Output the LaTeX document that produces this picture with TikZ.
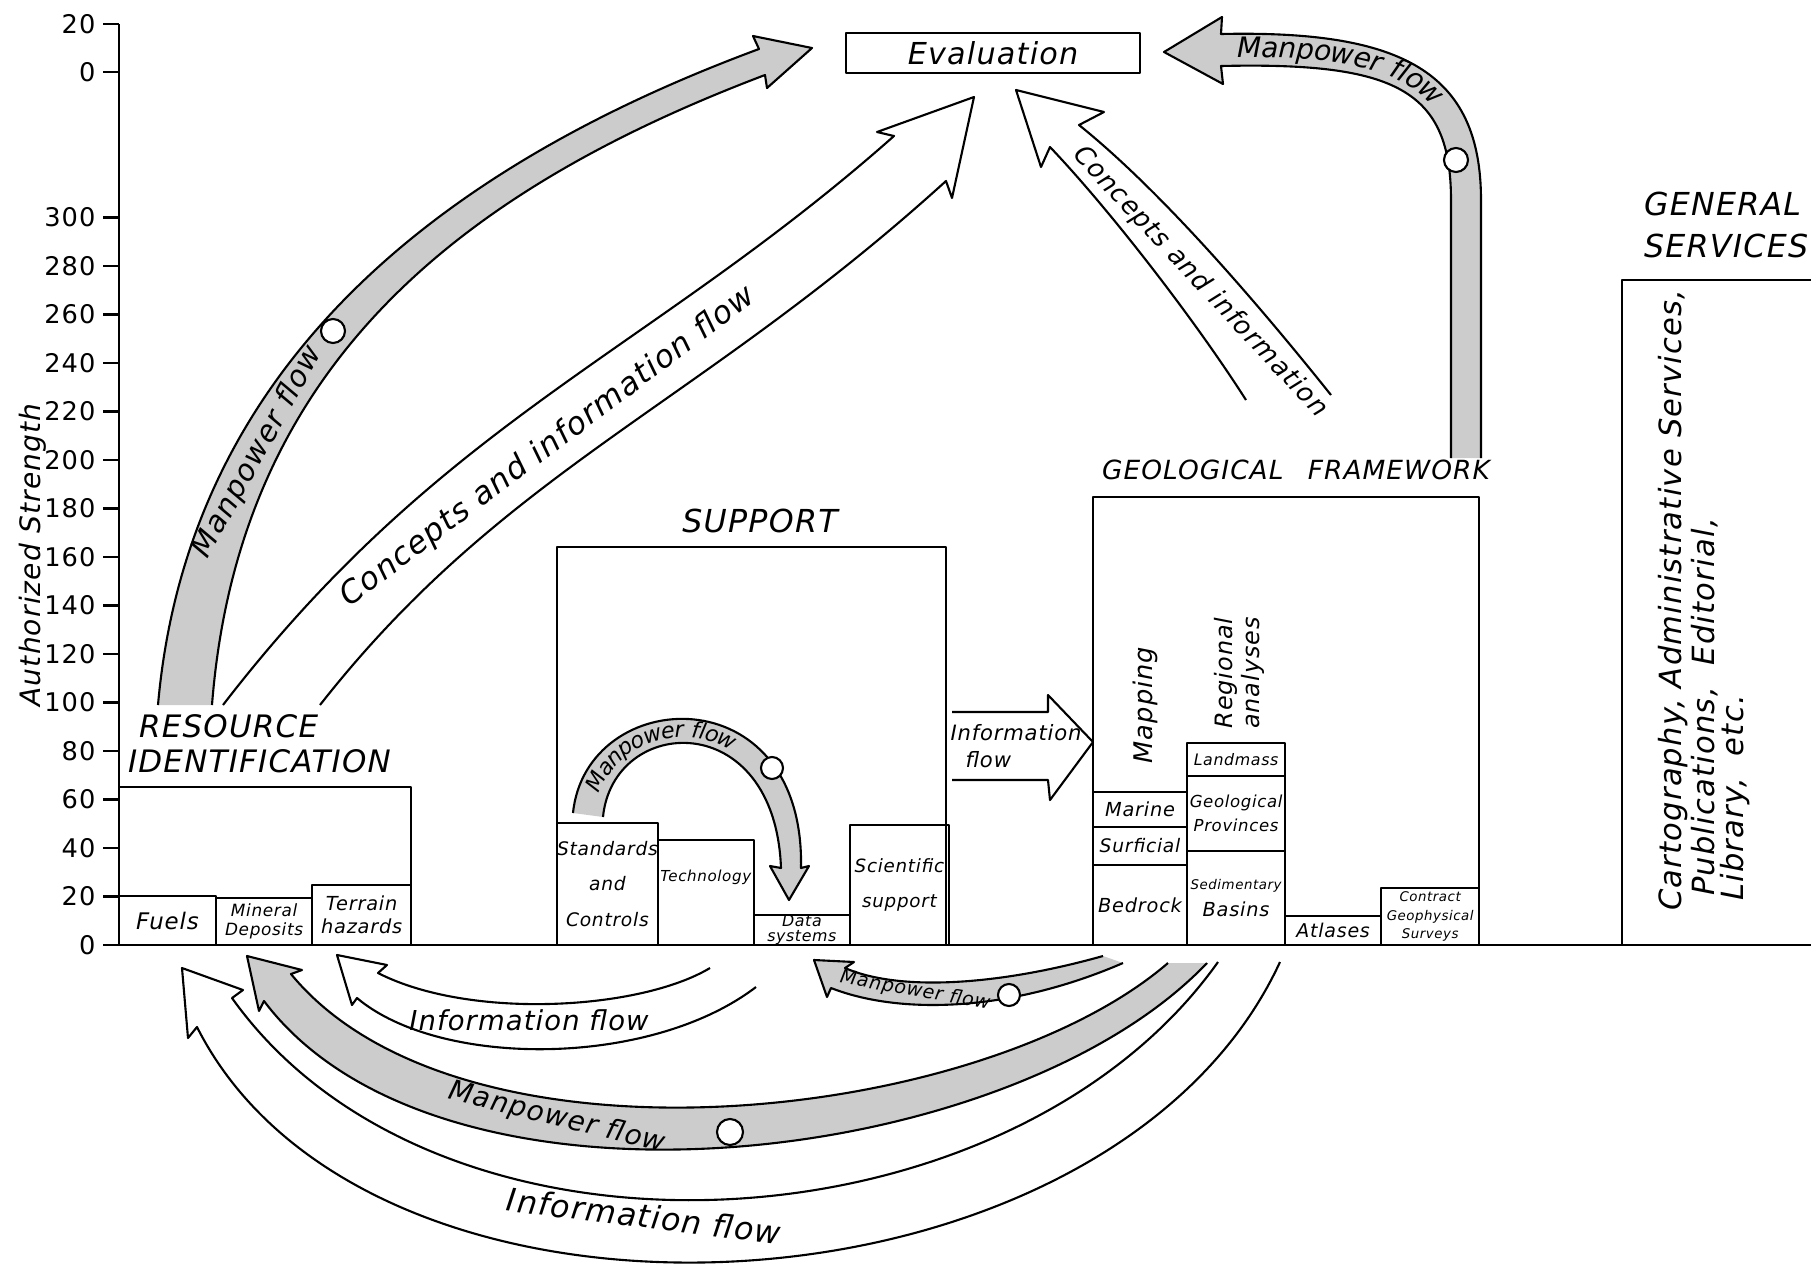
\documentclass[tikz,border=0pt]{standalone}
\usepackage{fontspec}
\setmainfont{DejaVu Sans}[ItalicFont={DejaVu Sans Oblique}, LetterSpace=4]
\usepackage{tikz}
\usetikzlibrary{positioning,decorations.text}
\newcommand{\rotulo}[2]{\fontsize{#1}{#2}\selectfont\itshape}

\begin{document}
\begin{tikzpicture}[x=0.01cm, y=-0.01cm, semithick, line join=round]
    \tikzstyle{caja}=[draw, rectangle, inner sep=0pt, outer sep=0pt, anchor=south west, align=center]
    \tikzstyle{banda}=[draw, fill=black!20]
    \tikzstyle{hueca}=[draw, fill=white]
    \tikzstyle{bolita}=[draw, circle, fill=white, inner sep=0pt, minimum size=0.24cm]
    \tikzstyle{marca}=[anchor=east, inner sep=1pt, font=\fontsize{7.3}{8}\selectfont]

    \useasboundingbox (0,0) rectangle (1811,1266);

    % Ejes
    \draw (119,24) -- (119,945) -- (1811,945);
    \draw (103,24) -- (119,24);
    \node[marca] (s20) at (100,24) {20};
    \draw (103,72) -- (119,72);
    \node[marca] (s0) at (100,72) {0};
    \foreach \v in {0,20,...,300} {
        \draw (103,{945-2.425*\v}) -- (119,{945-2.425*\v});
        \node[marca] (t\v) at (100,{945-2.425*\v}) {\v};
    }
    \node[rotate=90, font=\rotulo{8}{9}] (eje) at (33,555) {Authorized Strength};

    % Resource identification
    \node[caja, minimum width=2.92cm, minimum height=1.58cm] (recurso) at (119,945) {};
    \node[caja, minimum width=0.97cm, minimum height=0.49cm, font=\rotulo{6.5}{7}] (fuels) at (119,945) {Fuels};
    \node[caja, minimum width=0.96cm, minimum height=0.47cm, font=\rotulo{4.8}{5.4}] (mineral) at (fuels.south east) {Mineral\\Deposits};
    \node[caja, minimum width=0.99cm, minimum height=0.60cm, font=\rotulo{5.5}{6.5}] (terrain) at (mineral.south east) {Terrain\\hazards};
    \node[anchor=base west, inner sep=0pt, font=\rotulo{8.8}{10}] (rtit1) at (138,737) {RESOURCE};
    \node[anchor=base west, inner sep=0pt, font=\rotulo{8.8}{10}] (rtit2) at (127,772) {IDENTIFICATION};

    % Support
    \node[caja, minimum width=3.89cm, minimum height=3.98cm] (apoyo) at (557,945) {};
    \node[caja, minimum width=0.98cm, minimum height=1.22cm, font=\rotulo{5.3}{10}] (normas) at (557,945) {Standards\\and\\Controls};
    \node[caja, minimum width=0.96cm, minimum height=1.05cm, font=\rotulo{4.3}{5}] (tecno) at (normas.south east) {Technology\\[0.15cm]};
    \node[caja, minimum width=0.96cm, minimum height=0.29cm, font=\rotulo{4.5}{4.3}] (datos) at (tecno.south east) {Data\\systems};
    \node[caja, minimum width=0.99cm, minimum height=1.20cm, font=\rotulo{5.2}{10}] (cientif) at (datos.south east) {Scientific\\support};
    \node[anchor=base, inner sep=0pt, font=\rotulo{9}{10}] (stit) at (760,532) {SUPPORT};

    % Geological framework
    \node[caja, minimum width=3.86cm, minimum height=4.48cm] (geo) at (1093,945) {};
    \node[caja, minimum width=0.94cm, minimum height=0.80cm, font=\rotulo{5.5}{6}] (bedrock) at (1093,945) {Bedrock};
    \node[caja, minimum width=0.94cm, minimum height=0.38cm, font=\rotulo{5.3}{6}] (surficial) at (bedrock.north west) {Surficial};
    \node[caja, minimum width=0.94cm, minimum height=0.35cm, font=\rotulo{5.5}{6}] (marine) at (surficial.north west) {Marine};
    \node[caja, minimum width=0.98cm, minimum height=0.94cm, font=\rotulo{5.5}{7.7}] (sedim) at (bedrock.south east) {{\fontsize{3.8}{4}\selectfont Sedimentary}\\Basins};
    \node[caja, minimum width=0.98cm, minimum height=0.75cm, font=\rotulo{4.7}{7}] (provin) at (sedim.north west) {Geological\\Provinces};
    \node[caja, minimum width=0.98cm, minimum height=0.33cm, font=\rotulo{4.5}{5}] (landmass) at (provin.north west) {Landmass};
    \node[caja, minimum width=0.96cm, minimum height=0.29cm, font=\rotulo{5.4}{6}] (atlases) at (sedim.south east) {Atlases};
    \node[caja, minimum width=0.98cm, minimum height=0.57cm, font=\rotulo{3.8}{5.2}] (contract) at (atlases.south east) {Contract\\Geophysical\\Surveys};
    \node[rotate=90, font=\rotulo{7.3}{8}] (mapping) at (1145,705) {Mapping};
    \node[rotate=90, align=center, font=\rotulo{6.8}{7.7}] (regional) at (1239,673) {Regional\\analyses};
    \node[anchor=base, inner sep=0pt, font=\rotulo{7.5}{8}] (gtit) at (1296,479) {GEOLOGICAL\hspace{0.15cm} FRAMEWORK};

    % General services
    \node[caja, minimum width=2.4cm, minimum height=6.65cm] (generales) at (1622,945) {};
    \node[anchor=base west, inner sep=0pt, font=\rotulo{9}{10}] (gs1) at (1643,215) {GENERAL};
    \node[anchor=base west, inner sep=0pt, font=\rotulo{9}{10}] (gs2) at (1643,257) {SERVICES};
    \node[rotate=90, anchor=north west, align=left, inner sep=0pt, font=\rotulo{8.7}{8.3}] (gstexto) at (1657,912) {Cartography, Administrative Services,\\\hspace{0.15cm}Publications, \ Editorial,\\\hspace{0.1cm}Library, \ etc.};

    % Evaluation
    \node[caja, anchor=center, minimum width=2.93cm, minimum height=0.40cm, font=\rotulo{8.6}{9}] (eval) at (993,53) {Evaluation};

    % Flujos huecos
    \coordinate (cr1) at (223,705);
    \coordinate (cr2) at (320,705);
    \coordinate (crp) at (974,97);
    \filldraw[hueca] (cr1) .. controls (444,418) and (649,353) .. (894,136) -- (877,132) -- (crp) -- (952,198) -- (946,181) .. controls (697,407) and (506,468) .. (cr2);
    \node[rotate=37, font=\rotulo{8.9}{9}] (tcr) at (548,447) {Concepts and information flow};

    \coordinate (cg1) at (1331,395);
    \coordinate (cg2) at (1246,400);
    \coordinate (cgp) at (1016,90);
    \filldraw[hueca] (cg1) .. controls (1255,300) and (1160,190) .. (1079,125) -- (1104,112) -- (cgp) -- (1041,167) -- (1050,147) .. controls (1110,210) and (1195,320) .. (cg2);
    \node[rotate=-47, font=\rotulo{7.4}{8}] (tcg) at (1200,282) {Concepts and information};

    \coordinate (ih1) at (952,712);
    \coordinate (ih2) at (952,780);
    \coordinate (ihp) at (1093,742);
    \filldraw[hueca] (ih1) -- (1048,712) -- (1048,695) -- (ihp) -- (1050,800) -- (1048,780) -- (ih2);
    \node[align=left, font=\rotulo{6}{7.7}] (tih) at (1016,746) {Information\\\hspace{0.15cm}flow};

    \coordinate (is1) at (710,968);
    \coordinate (is2) at (756,987);
    \coordinate (isp) at (337,955);
    \filldraw[hueca] (is1) .. controls (640,1010) and (470,1020) .. (378,973) -- (387,965) -- (isp) -- (352,1005) -- (357,998) .. controls (440,1068) and (650,1068) .. (is2);
    \node[font=\rotulo{7.8}{8}] (tis) at (529,1020) {Information flow};

    \coordinate (ib1) at (1218,962);
    \coordinate (ib2) at (1280,962);
    \coordinate (ibp) at (182,968);
    \filldraw[hueca] (ib1) .. controls (1010,1255) and (440,1290) .. (232,998) -- (243,990) -- (ibp) -- (188,1038) -- (197,1027) .. controls (370,1370) and (1110,1330) .. (ib2);
    \node[rotate=-7, font=\rotulo{9}{10}] (tib) at (644,1216) {Information flow};

    % Flujos de personal
    \coordinate (mr1) at (158,705);
    \coordinate (mr2) at (212,705);
    \coordinate (mrp) at (812,48);
    \filldraw[banda] (mr1) .. controls (188,363) and (443,166) .. (759,49) -- (753,36) -- (mrp) -- (767,88) -- (765,75) .. controls (451,194) and (238,372) .. (mr2);
    \node[bolita] (cmr) at (333,331) {};
    \node[rotate=61, font=\rotulo{8.4}{9}] (tmr) at (258,452) {Manpower flow};

    \coordinate (mg1) at (1481,458);
    \coordinate (mg2) at (1451,458);
    \coordinate (mgp) at (1164,52);
    \filldraw[banda] (mg1) -- (1481,200) .. controls (1481,72) and (1402,30) .. (1221,34) -- (1222,17) -- (mgp) -- (1223,84) -- (1221,66) .. controls (1396,62) and (1451,90) .. (1451,200) -- (mg2);
    \node[bolita] (cmg) at (1456,160) {};
    \path[decorate, decoration={text along path, text={|\rotulo{8}{8}|Manpower flow}, text align={left indent=0.12cm}, raise=-2.2pt}] (1225,50) .. controls (1400,46) and (1466,80) .. (1466,200);

    \coordinate (ms1) at (573,813);
    \coordinate (ms2) at (603,817);
    \coordinate (msp) at (789,900);
    \filldraw[banda] (ms1) .. controls (586,685) and (805,673) .. (801,868) -- (809,866) -- (msp) -- (770,866) -- (781,868) .. controls (775,706) and (613,715) .. (ms2);
    \node[bolita, minimum size=0.22cm] (cms) at (772,768) {};
    \path[decorate, decoration={text along path, text={|\rotulo{6.3}{7}|Manpower flow}, text align={left indent=0.25cm}, raise=-1.8pt}] (588,815) .. controls (600,700) and (790,690) .. (791,868);

    \coordinate (md1) at (1103,956);
    \coordinate (md2) at (1123,963);
    \coordinate (mdp) at (814,960);
    \filldraw[banda] (md1) .. controls (1000,985) and (900,992) .. (845,968) -- (854,962) -- (mdp) -- (827,997) -- (831,988) .. controls (900,1015) and (1010,1012) .. (md2);
    \node[bolita, minimum size=0.22cm] (cmd) at (1009,995) {};
    \node[rotate=-10, font=\rotulo{5.4}{6}] (tmd) at (915,991) {Manpower flow};

    \coordinate (mb1) at (1168,963);
    \coordinate (mb2) at (1207,963);
    \coordinate (mbp) at (247,956);
    \filldraw[banda] (mb1) .. controls (980,1125) and (460,1180) .. (291,974) -- (302,970) -- (mbp) -- (259,1011) -- (264,1001) .. controls (440,1235) and (1010,1170) .. (mb2);
    \node[bolita, minimum size=0.26cm] (cmb) at (730,1132) {};
    \node[rotate=-14, font=\rotulo{7.9}{8}] (tmb) at (557,1118) {Manpower flow};
\end{tikzpicture}
\end{document}
